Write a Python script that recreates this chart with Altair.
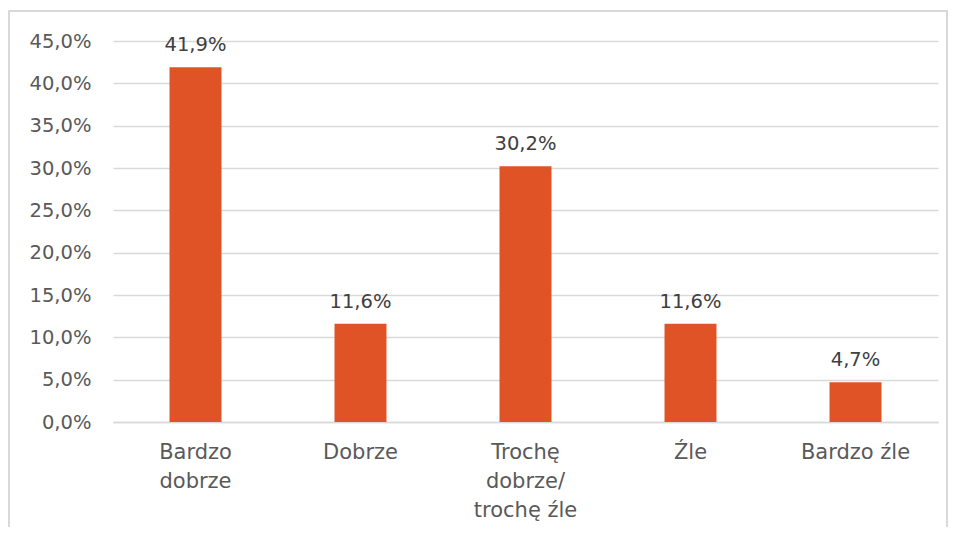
import altair as alt
import pandas as pd

categories = ["Bardzo\ndobrze", "Dobrze", "Trochę\ndobrze/\ntrochę źle", "Źle", "Bardzo źle"]
values = [0.419, 0.116, 0.302, 0.116, 0.047]

df = pd.DataFrame({"cat": categories, "val": values})

FONT = "DejaVu Sans"
TXT = "#595959"
W, H = 825, 381

x = alt.X("cat:N", sort=categories, title=None,
          scale=alt.Scale(paddingInner=0.685, paddingOuter=0.3425),
          axis=alt.Axis(labelExpr="split(datum.value, '\\n')", labelAngle=0,
                        labelFontSize=21, labelFont=FONT, labelColor=TXT,
                        labelLineHeight=29, labelPadding=19, ticks=False,
                        domainColor="#d9d9d9", domainWidth=1.3, grid=False))
y = alt.Y("val:Q", title=None,
          scale=alt.Scale(domain=[0, 0.45], nice=False),
          axis=alt.Axis(values=[i * 0.05 for i in range(10)],
                        labelExpr="replace(format(datum.value, '.1%'), '.', ',')",
                        labelFontSize=19.5, labelFont=FONT, labelColor=TXT,
                        labelPadding=22, ticks=False, domain=False,
                        gridColor="#d9d9d9", gridWidth=1.3))

bars = alt.Chart(df).mark_bar(color="#E05326").encode(x=x, y=y)
labels = alt.Chart(df).mark_text(font=FONT, fontSize=19.5, color="#404040",
                                 baseline="alphabetic", dy=-16).transform_calculate(
    lbl="replace(format(datum.val, '.1%'), '.', ',')"
).encode(x=alt.X("cat:N", sort=categories), y="val:Q", text="lbl:N")

border = alt.Chart(df).mark_rect(fill=None, stroke="#d9d9d9", strokeWidth=1.3).encode(
    x=alt.value(-104), x2=alt.value(834), y=alt.value(-30), y2=alt.value(560))

chart = alt.layer(border, bars, labels).properties(
    width=W, height=H,
    autosize=alt.AutoSizeParams(type="none"),
    padding={"left": 105, "top": 33, "right": 10, "bottom": 105},
).configure_view(stroke=None)

chart.save("out.html", embed_options={"renderer": "svg", "actions": False})
